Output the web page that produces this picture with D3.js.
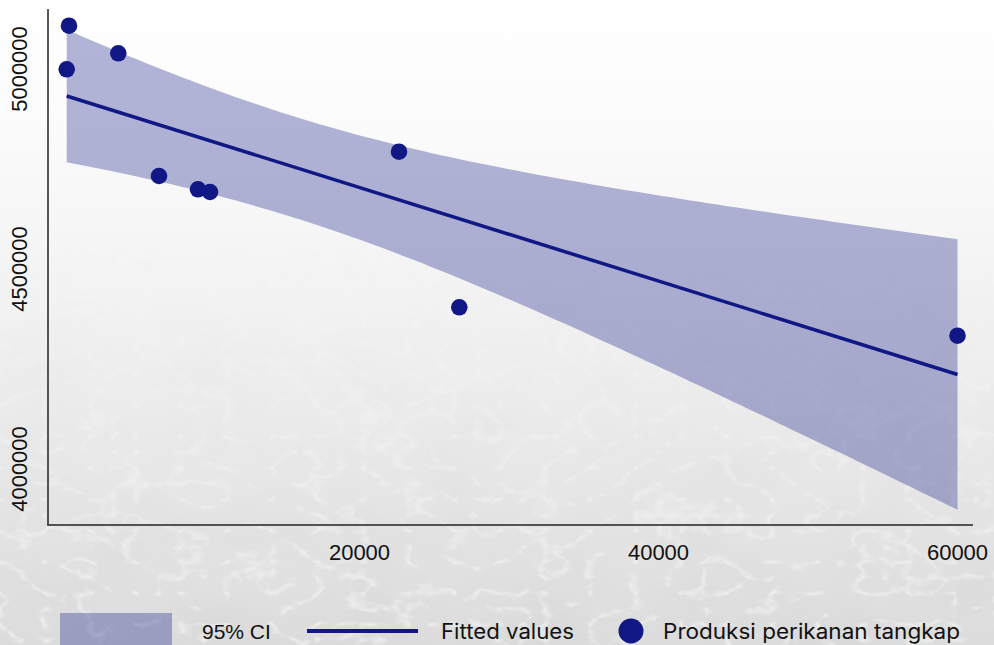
<!DOCTYPE html>
<html>
<head>
<meta charset="utf-8">
<script src="https://cdn.jsdelivr.net/npm/d3@7"></script>
<style>
  html, body { margin: 0; padding: 0; background: #fff; }
  #chart { width: 994px; height: 645px; overflow: hidden; }
</style>
</head>
<body>
<div id="chart"></div>
<script>
// data
const xValues = [415, 569, 3866, 6589, 9197, 10000, 22642, 26676, 60000];
const produksi = [4999250, 5108250, 5039250, 4732500, 4699250, 4692500, 4793250, 4404250, 4333250];
const xTicks = [20000, 40000, 60000];
const yTicks = [4000000, 4500000, 5000000];
const legendLabels = ["95% CI", "Fitted values", "Produksi perikanan tangkap"];

const navy = "#111886";
const tCrit = 2.364624; // t(0.975, df = 7)

const width = 994;
const height = 645;

const svg = d3.select("#chart")
    .append("svg")
    .attr("width", width)
    .attr("height", height);

// background, white on top fading into a grey water texture
const defs = svg.append("defs");
const bg = defs.append("linearGradient")
    .attr("id", "bgGrad")
    .attr("x1", 0).attr("y1", 0).attr("x2", 0).attr("y2", 1);
bg.append("stop").attr("offset", "0").attr("stop-color", "#ffffff");
bg.append("stop").attr("offset", "0.2").attr("stop-color", "#fbfbfb");
bg.append("stop").attr("offset", "0.5").attr("stop-color", "#f1f1f1");
bg.append("stop").attr("offset", "1").attr("stop-color", "#dcdcdc");

const fade = defs.append("linearGradient")
    .attr("id", "fadeGrad")
    .attr("x1", 0).attr("y1", 0).attr("x2", 0).attr("y2", 1);
fade.append("stop").attr("offset", "0.35").attr("stop-color", "#000");
fade.append("stop").attr("offset", "0.65").attr("stop-color", "#777");
fade.append("stop").attr("offset", "1").attr("stop-color", "#fff");
defs.append("mask").attr("id", "fadeMask")
    .append("rect")
    .attr("width", width).attr("height", height)
    .attr("fill", "url(#fadeGrad)");

// darker mottled patches
const mottle = defs.append("filter")
    .attr("id", "mottle")
    .attr("x", 0).attr("y", 0).attr("width", "100%").attr("height", "100%");
mottle.append("feTurbulence")
    .attr("type", "fractalNoise")
    .attr("baseFrequency", "0.012 0.018")
    .attr("numOctaves", 2)
    .attr("seed", 3);
mottle.append("feColorMatrix")
    .attr("type", "matrix")
    .attr("values", "0 0 0 0 0.55  0 0 0 0 0.55  0 0 0 0 0.55  1.2 0 0 0 -0.45");

// white veins
const water = defs.append("filter")
    .attr("id", "water")
    .attr("x", 0).attr("y", 0).attr("width", "100%").attr("height", "100%");
water.append("feTurbulence")
    .attr("type", "turbulence")
    .attr("baseFrequency", "0.022 0.032")
    .attr("numOctaves", 3)
    .attr("seed", 7);
water.append("feColorMatrix")
    .attr("type", "matrix")
    .attr("values", "0 0 0 0 1  0 0 0 0 1  0 0 0 0 1  -5 0 0 0 1.0");

svg.append("rect")
    .attr("width", width).attr("height", height)
    .attr("fill", "url(#bgGrad)");
svg.append("rect")
    .attr("width", width).attr("height", height)
    .attr("filter", "url(#mottle)")
    .attr("mask", "url(#fadeMask)")
    .attr("opacity", 0.25);
svg.append("rect")
    .attr("width", width).attr("height", height)
    .attr("filter", "url(#water)")
    .attr("mask", "url(#fadeMask)")
    .attr("opacity", 0.55);

// scales
const x = d3.scaleLinear().domain([0, 60000]).range([60.5, 957.5]);
const y = d3.scaleLinear().domain([4000000, 5000000]).range([469, 69]);

const plotLeft = 48, plotRight = 973, plotTop = 9, plotBottom = 525;

// linear fit with 95% CI
const n = xValues.length;
const mx = d3.mean(xValues);
const my = d3.mean(produksi);
const sxx = d3.sum(xValues, v => (v - mx) * (v - mx));
const sxy = d3.sum(xValues, (v, i) => (v - mx) * (produksi[i] - my));
const slope = sxy / sxx;
const intercept = my - slope * mx;
const fit = v => intercept + slope * v;
const s = Math.sqrt(d3.sum(xValues, (v, i) => (produksi[i] - fit(v)) ** 2) / (n - 2));

const xMin = d3.min(xValues), xMax = d3.max(xValues);
const grid = d3.range(0, 101).map(i => xMin + (xMax - xMin) * i / 100);
const band = grid.map(v => {
    const se = s * Math.sqrt(1 / n + (v - mx) ** 2 / sxx);
    return { x: v, fit: fit(v), lo: fit(v) - tCrit * se, hi: fit(v) + tCrit * se };
});

svg.append("path")
    .datum(band)
    .attr("fill", navy)
    .attr("fill-opacity", 0.32)
    .attr("d", d3.area()
        .x(d => x(d.x))
        .y0(d => y(d.lo))
        .y1(d => y(d.hi)));

svg.append("path")
    .datum([xMin, xMax])
    .attr("fill", "none")
    .attr("stroke", navy)
    .attr("stroke-width", 3.5)
    .attr("d", d3.line().x(d => x(d)).y(d => y(fit(d))));

// axes, lines only
svg.append("line")
    .attr("x1", plotLeft).attr("x2", plotLeft)
    .attr("y1", plotTop).attr("y2", plotBottom)
    .attr("stroke", "#222").attr("stroke-width", 1.5);
svg.append("line")
    .attr("x1", plotLeft - 0.75).attr("x2", plotRight)
    .attr("y1", plotBottom).attr("y2", plotBottom)
    .attr("stroke", "#222").attr("stroke-width", 1.5);

svg.append("g")
    .selectAll("text")
    .data(xTicks)
    .enter().append("text")
    .attr("x", d => x(d))
    .attr("y", 560)
    .attr("text-anchor", "middle")
    .attr("font-family", "'Liberation Sans', Arial, sans-serif")
    .attr("font-size", "22px")
    .attr("fill", "#111")
    .text(d => d);

svg.append("g")
    .selectAll("text")
    .data(yTicks)
    .enter().append("text")
    .attr("transform", d => `translate(27,${y(d)}) rotate(-90)`)
    .attr("text-anchor", "middle")
    .attr("font-family", "'Liberation Sans', Arial, sans-serif")
    .attr("font-size", "22px")
    .attr("fill", "#111")
    .text(d => d);

// points
svg.append("g")
    .selectAll("circle")
    .data(xValues)
    .enter().append("circle")
    .attr("cx", d => x(d))
    .attr("cy", (d, i) => y(produksi[i]))
    .attr("r", 8.3)
    .attr("fill", navy);

// legend
const legend = svg.append("g");
legend.append("rect")
    .attr("x", 60).attr("y", 613)
    .attr("width", 112).attr("height", 40)
    .attr("fill", navy).attr("fill-opacity", 0.32);
legend.append("text")
    .attr("x", 202).attr("y", 639)
    .attr("font-family", "'Liberation Sans', Arial, sans-serif")
    .attr("font-size", "21px")
    .attr("fill", "#111")
    .text(legendLabels[0]);
legend.append("line")
    .attr("x1", 307).attr("x2", 418)
    .attr("y1", 631).attr("y2", 631)
    .attr("stroke", navy).attr("stroke-width", 4);
legend.append("text")
    .attr("x", 441).attr("y", 639)
    .attr("font-family", "Inter, 'Open Sans', sans-serif")
    .attr("font-size", "21px")
    .attr("fill", "#111")
    .attr("textLength", 133)
    .attr("lengthAdjust", "spacingAndGlyphs")
    .text(legendLabels[1]);
legend.append("circle")
    .attr("cx", 631).attr("cy", 631)
    .attr("r", 12.5)
    .attr("fill", navy);
legend.append("text")
    .attr("x", 663).attr("y", 639)
    .attr("font-family", "Inter, 'Open Sans', sans-serif")
    .attr("font-size", "21px")
    .attr("fill", "#111")
    .attr("textLength", 297)
    .attr("lengthAdjust", "spacingAndGlyphs")
    .text(legendLabels[2]);
</script>
</body>
</html>
